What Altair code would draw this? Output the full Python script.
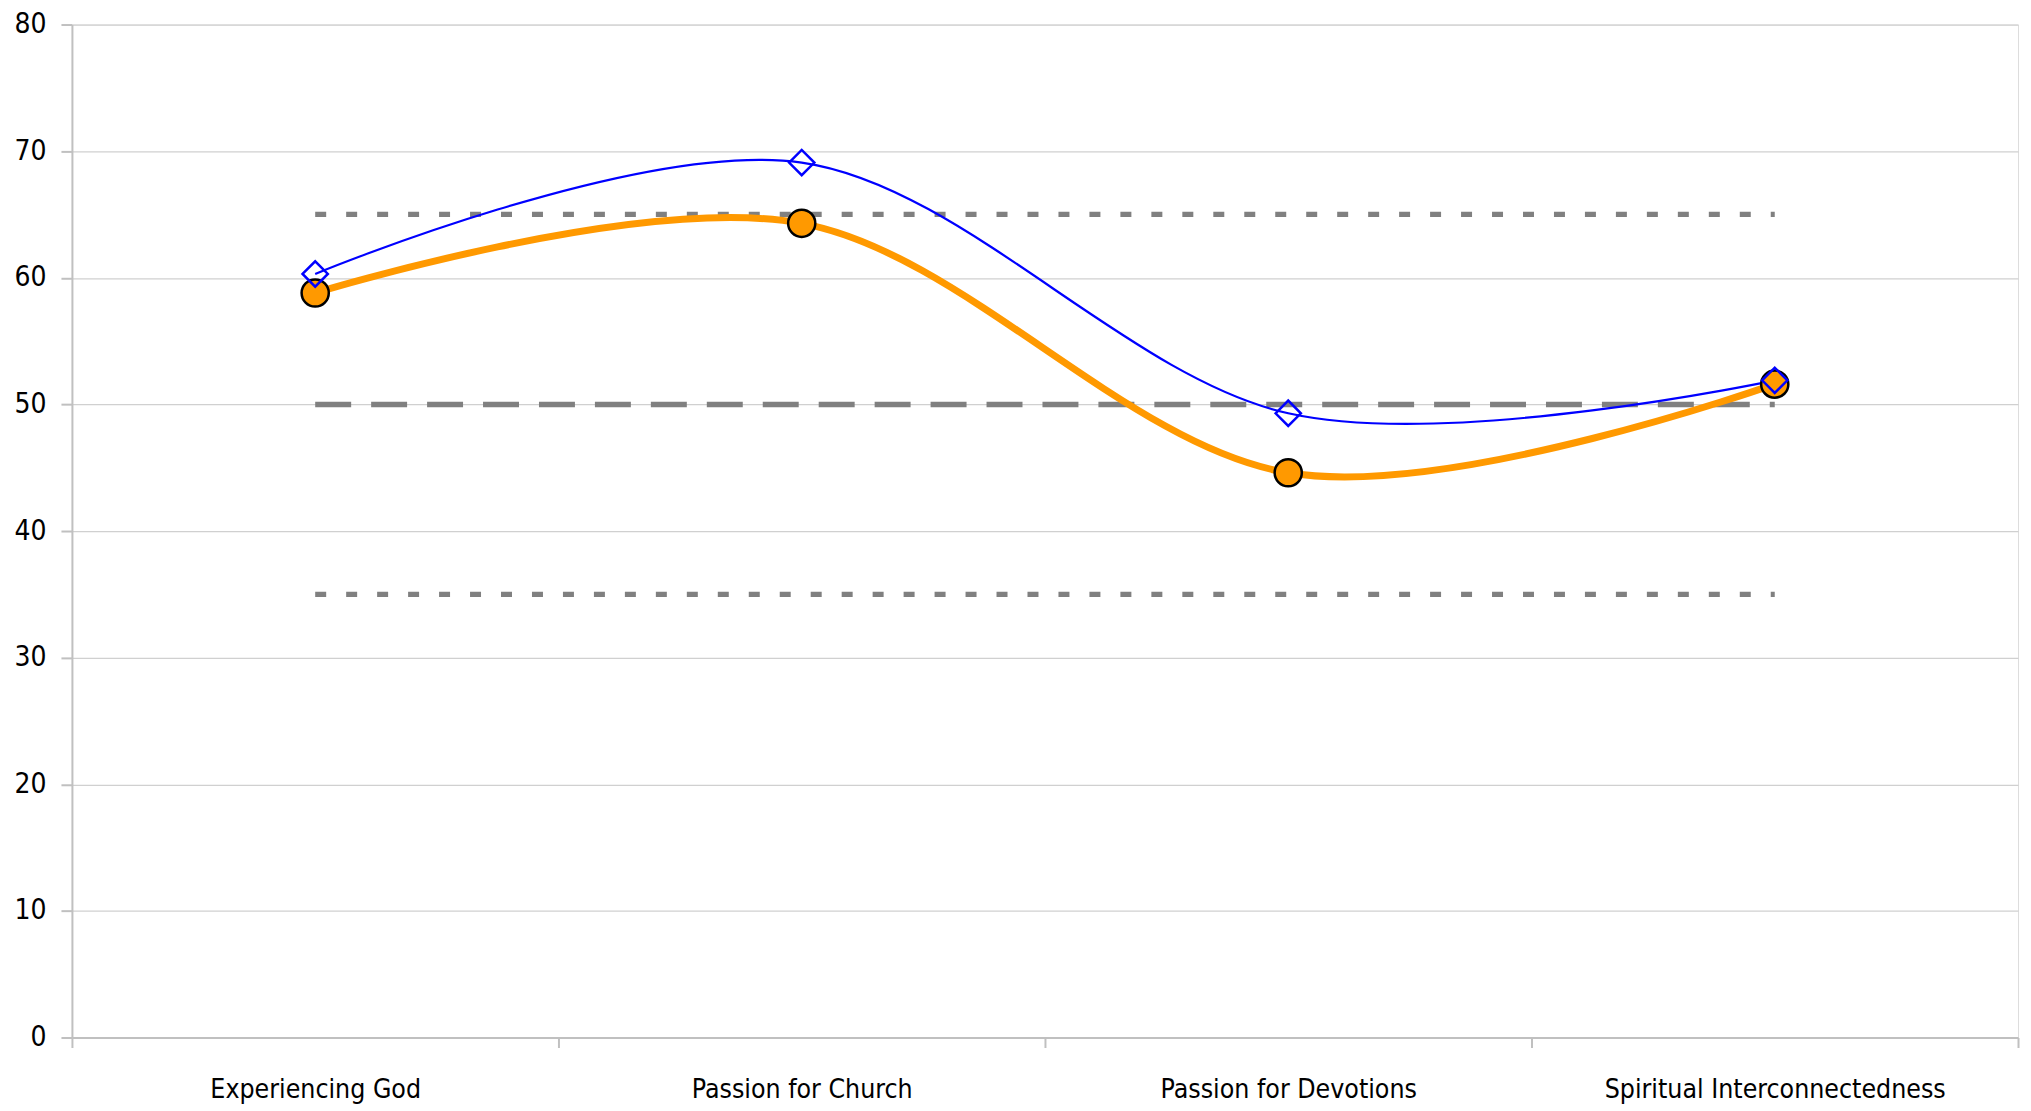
import altair as alt
import pandas as pd

categories = ["Experiencing God", "Passion for Church", "Passion for Devotions", "Spiritual Interconnectedness"]
orange_values = [58.8, 64.3, 44.6, 51.6]
blue_values = [60.3, 69.1, 49.3, 51.9]
ref_dotted = [65, 35]
ref_dashed = [50]
y_ticks = [0, 10, 20, 30, 40, 50, 60, 70, 80]

FONT = "DejaVu Sans Condensed"

orange_df = pd.DataFrame({"cat": categories, "value": orange_values})
blue_df = pd.DataFrame({"cat": categories, "value": blue_values})

def ref_frame(levels):
    rows = []
    for lv in levels:
        rows.append({"cat": categories[0], "value": lv, "level": str(lv)})
        rows.append({"cat": categories[-1], "value": lv, "level": str(lv)})
    return pd.DataFrame(rows)

dotted_df = ref_frame(ref_dotted)
dashed_df = ref_frame(ref_dashed)

x_enc = alt.X(
    "cat:N",
    sort=categories,
    bandPosition=0.5,
    scale=alt.Scale(type="band", paddingInner=0, paddingOuter=0, domain=categories),
    axis=alt.Axis(
        title=None,
        labelAngle=0,
        labelLimit=0,
        grid=False,
        tickBand="extent",
        tickSize=10,
        tickWidth=2,
        tickColor="#c0c0c0",
        domainColor="#c0c0c0",
        domainWidth=2,
        labelFont=FONT,
        labelFontSize=26.5,
        labelColor="#000000",
        labelPadding=29,
    ),
)
y_enc = alt.Y(
    "value:Q",
    scale=alt.Scale(domain=[0, 80], nice=False, zero=True),
    axis=alt.Axis(
        title=None,
        values=y_ticks,
        grid=True,
        gridColor="#d0d0d0",
        gridWidth=1.3,
        tickSize=11,
        tickWidth=2,
        tickColor="#c0c0c0",
        domainColor="#c0c0c0",
        domainWidth=2,
        labelFont=FONT,
        labelFontSize=28,
        labelColor="#000000",
        labelPadding=15,
    ),
)

dotted = alt.Chart(dotted_df).mark_line(
    color="#808080", strokeWidth=5.3, strokeDash=[11, 20], strokeCap="butt"
).encode(x=x_enc, y=y_enc, detail="level:N")

dashed = alt.Chart(dashed_df).mark_line(
    color="#808080", strokeWidth=5.5, strokeDash=[36, 20], strokeCap="butt"
).encode(x=x_enc, y=y_enc, detail="level:N")

blue_line = alt.Chart(blue_df).mark_line(
    color="#0000ff", strokeWidth=2.2, interpolate="cardinal", tension=0
).encode(x=x_enc, y=y_enc)

orange_line = alt.Chart(orange_df).mark_line(
    color="#ff9900", strokeWidth=7, interpolate="cardinal", tension=0
).encode(x=x_enc, y=y_enc)

orange_pts = alt.Chart(orange_df).mark_point(
    shape="circle", filled=True, fill="#ff9900", stroke="#000000", strokeWidth=2.5, size=740, opacity=1
).encode(x=x_enc, y=y_enc)

blue_pts = alt.Chart(blue_df).mark_point(
    shape="diamond", filled=False, stroke="#0000ff", strokeWidth=2.5, size=640, opacity=1
).encode(x=x_enc, y=y_enc)

chart = alt.layer(dotted, dashed, blue_line, orange_line, orange_pts, blue_pts).properties(
    width=1948,
    height=1014,
    padding={"left": 64, "top": 16, "right": 5, "bottom": 70},
    autosize=alt.AutoSizeParams(type="none"),
).configure_view(stroke=None).configure(background="#ffffff")

chart.save("out.html", embed_options={"renderer": "svg", "actions": False})
